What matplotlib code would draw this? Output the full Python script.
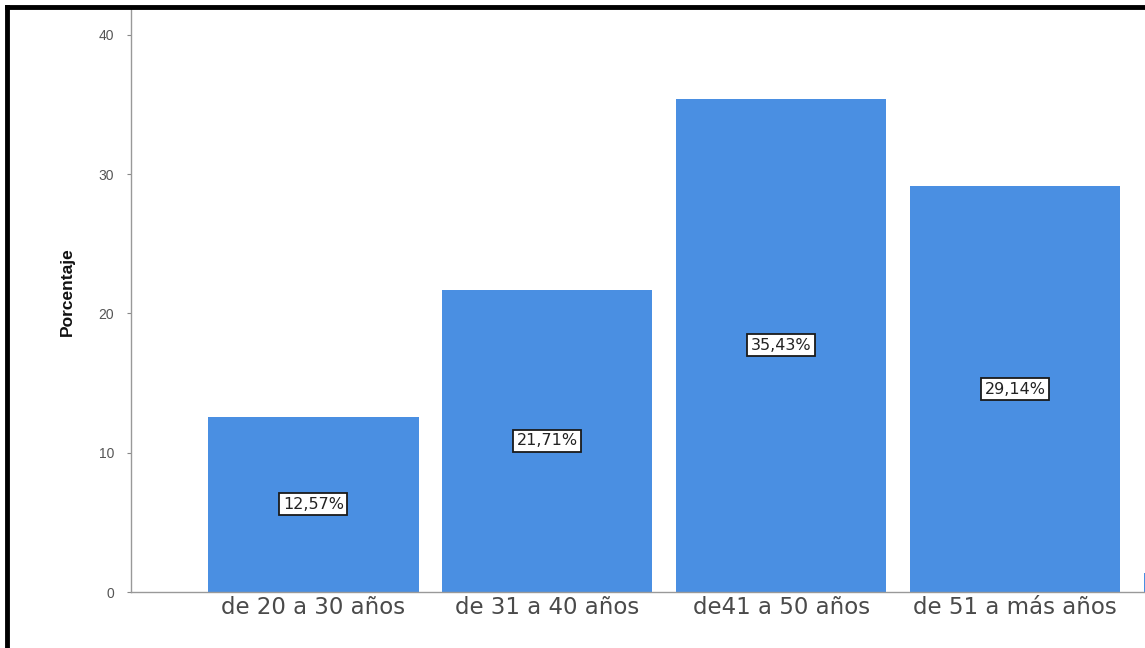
import matplotlib
matplotlib.use("Agg")
import matplotlib.pyplot as plt
from matplotlib.lines import Line2D

categories = ["de 20 a 30 años", "de 31 a 40 años", "de41 a 50 años", "de 51 a más años", ""]
values = [12.57, 21.71, 35.43, 29.14, 1.4]
labels = ["12,57%", "21,71%", "35,43%", "29,14%", None]
yticks = [0, 10, 20, 30, 40]

plt.rcParams['font.family'] = ['Liberation Sans', 'DejaVu Sans']

W, H = 1145, 648
fig = plt.figure(figsize=(W / 100, H / 100), dpi=100)
ax = fig.add_axes([131 / W, 1 - 592 / H, 1 - 131 / W, (592 - 7) / H])

x = list(range(len(values)))
ax.bar(x, values, width=0.9, color="#4A8FE2", zorder=2)
for xi, v, lab in zip(x, values, labels):
    if lab:
        ax.text(xi, v / 2, lab, ha="center", va="center", fontsize=11.5, color="#222",
                family="DejaVu Sans",
                bbox=dict(boxstyle="square,pad=0.22", fc="white", ec="#1a1a1a", lw=1.3), zorder=3)

ax.set_xlim(-0.78, 3.556)
ax.set_ylim(0, 42)
ax.set_yticks(yticks)
ax.set_yticklabels([str(t) for t in yticks], fontsize=10, color="#555")
ax.set_xticks(x[:4])
ax.set_xticklabels(categories[:4], fontsize=16.5, color="#4a4a4a", family="DejaVu Sans")
ax.tick_params(axis="y", length=3, color="#888", pad=9)
ax.tick_params(axis="x", length=0, pad=3)
ax.set_ylabel("Porcentaje", fontsize=12.5, fontweight="bold", color="#111")
ax.yaxis.set_label_coords((75 - 131) / (W - 131), (592 - 292) / 585)
for s in ["top", "right"]:
    ax.spines[s].set_visible(False)
for s in ["left", "bottom"]:
    ax.spines[s].set_color("#999")
    ax.spines[s].set_linewidth(1)

fig.add_artist(Line2D([7 / W, 7 / W], [0, 1 - 7 / H], transform=fig.transFigure, color="black", lw=3.5))
fig.add_artist(Line2D([7 / W, 1], [1 - 7 / H, 1 - 7 / H], transform=fig.transFigure, color="black", lw=3.5))

fig.savefig("out.png", dpi=100)
